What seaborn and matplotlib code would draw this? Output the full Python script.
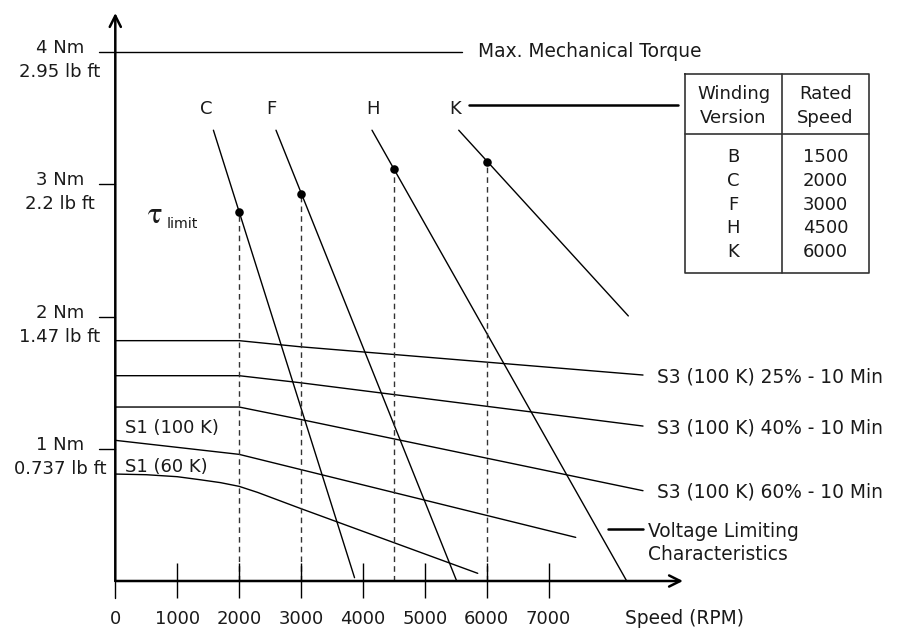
import numpy as np
import pandas as pd
import matplotlib
matplotlib.use("Agg")
import matplotlib.pyplot as plt
import seaborn as sns

# ---------------- data ----------------
windings = ["C", "F", "H", "K"]
rated_speeds = [2000, 3000, 4500, 6000]            # rpm, tau_limit points
tau_limit = [2.79, 2.93, 3.12, 3.17]               # Nm
vl_start_speed = [1585, 2596, 4147, 5548]          # voltage limiting line start
vl_start_torque = [3.41, 3.41, 3.41, 3.41]
vl_end_speed = [3865, 5515, 8262, 8288]
vl_end_torque = [0.025, 0.0, 0.0, 2.005]

s3_speed = [0, 2000, 2984, 8525]
s3_25 = [1.818, 1.818, 1.772, 1.558]
s3_40 = [1.553, 1.553, 1.500, 1.172]
s3_60 = [1.316, 1.316, 1.223, 0.683]
s3_labels = ["S3 (100 K) 25% - 10 Min", "S3 (100 K) 40% - 10 Min", "S3 (100 K) 60% - 10 Min"]

s1_100_speed = [0, 2000, 7438]
s1_100 = [1.064, 0.958, 0.330]
s1_60_speed = [0, 500, 1000, 1370, 1700, 2000, 2300, 2984, 5855]
s1_60 = [0.809, 0.804, 0.789, 0.766, 0.744, 0.716, 0.670, 0.550, 0.058]

max_torque = 4.0
y_ticks = [1, 2, 3, 4]
y_labels_nm = ["1 Nm", "2 Nm", "3 Nm", "4 Nm"]
y_labels_lb = ["0.737 lb ft", "1.47 lb ft", "2.2 lb ft", "2.95 lb ft"]
x_ticks = [0, 1000, 2000, 3000, 4000, 5000, 6000, 7000]
x_labels = ["0", "1000", "2000", "3000", "4000", "5000", "6000", "7000"]

table_versions = ["B", "C", "F", "H", "K"]
table_speeds = ["1500", "2000", "3000", "4500", "6000"]

# ---------------- layout helpers (pixel -> data) ----------------
PX0, PXS = 115.3, 0.0619
PY0, PYS = 581.0, 132.2
def dx(px):
    return (px - PX0) / PXS
def dy(py):
    return (PY0 - py) / PYS

sns.set_theme(style="white")
plt.rcParams["font.family"] = ["DejaVu Sans"]
TXT = "#1a1a1a"
FS = 13
FSL = 13.4

fig = plt.figure(figsize=(8.99, 6.29), dpi=100)
ax = fig.add_axes([0, 0, 1, 1])
ax.set_xlim(dx(0), dx(899))
ax.set_ylim(dy(629), dy(0))
ax.axis("off")

# voltage limiting lines
vl = pd.DataFrame({
    "speed": vl_start_speed + vl_end_speed,
    "torque": vl_start_torque + vl_end_torque,
    "w": windings + windings,
})
sns.lineplot(data=vl, x="speed", y="torque", units="w", estimator=None,
             color="black", lw=1.0, ax=ax, sort=False)

# S3 curves
s3 = pd.DataFrame({
    "speed": s3_speed * 3,
    "torque": s3_25 + s3_40 + s3_60,
    "c": [s3_labels[0]] * 4 + [s3_labels[1]] * 4 + [s3_labels[2]] * 4,
})
sns.lineplot(data=s3, x="speed", y="torque", units="c", estimator=None,
             color="black", lw=1.0, ax=ax, sort=False)

# S1 curves
s1 = pd.DataFrame({
    "speed": s1_100_speed + s1_60_speed,
    "torque": s1_100 + s1_60,
    "c": ["S1 (100 K)"] * len(s1_100) + ["S1 (60 K)"] * len(s1_60),
})
sns.lineplot(data=s1, x="speed", y="torque", units="c", estimator=None,
             color="black", lw=1.0, ax=ax, sort=False)

# tau limit dashed verticals + dots
ax.vlines(rated_speeds, 0, tau_limit, colors="#333333", lw=1.0, linestyles=(0, (4, 3)))
sns.scatterplot(x=rated_speeds, y=tau_limit, color="black", s=38, edgecolor="black",
                linewidth=0, ax=ax, zorder=5)

# max mechanical torque
ax.plot([dx(99), dx(461.7)], [max_torque, max_torque], color="black", lw=1.0)
ax.text(dx(477.7), dy(56.7), "Max. Mechanical Torque", fontsize=FSL, color=TXT,
        ha="left", va="baseline")

# axes with arrows
arrow = dict(arrowstyle="->", lw=1.8, color="black", mutation_scale=20, shrinkA=0, shrinkB=0)
ax.annotate("", xy=(dx(683), 0), xytext=(0, 0), arrowprops=arrow)
ax.annotate("", xy=(0, dy(13)), xytext=(0, 0), arrowprops=arrow)

# ticks
for t in y_ticks[:-1]:
    ax.plot([dx(99), 0], [t, t], color="black", lw=1.0)
ax.plot([0, 0], [dy(581), dy(598)], color="black", lw=1.0)
ax.vlines(x_ticks[1:], dy(598), dy(563), colors="black", lw=1.0)

for t, a, b in zip(y_ticks, y_labels_nm, y_labels_lb):
    ax.text(dx(60), t - 1.0 / PYS, a, fontsize=FS, color=TXT, ha="center", va="baseline")
    ax.text(dx(60), t - 25.0 / PYS, b, fontsize=FS, color=TXT, ha="center", va="baseline")

for t, lab in zip(x_ticks, x_labels):
    ax.text(t, dy(624.5), lab, fontsize=FS, color=TXT, ha="center", va="baseline")
ax.text(dx(625), dy(624.5), "Speed (RPM)", fontsize=FSL, color=TXT, ha="left", va="baseline")

# winding labels
label_px = [206.7, 271.7, 373.0, 455.5]
for w, p in zip(windings, label_px):
    ax.text(dx(p), dy(114.3), w, fontsize=FS, color=TXT, ha="center", va="baseline")
ax.plot([dx(469), dx(678)], [dy(105), dy(105)], color="black", lw=1.8)

# tau limit label
ax.text(dx(147), dy(223.3), r"$\mathrm{\tau}$", fontsize=22, color=TXT, ha="left",
        va="baseline", math_fontfamily="stix")
ax.text(dx(166.5), dy(228.3), "limit", fontsize=10.2, color=TXT, ha="left", va="baseline")

# S3 labels
for lab, bl in zip(s3_labels, [382.7, 433.3, 497.7]):
    ax.text(dx(656.7), dy(bl), lab, fontsize=FSL, color=TXT, ha="left", va="baseline")

# S1 labels
ax.text(dx(125), dy(433.3), "S1 (100 K)", fontsize=FS, color=TXT, ha="left", va="baseline")
ax.text(dx(125), dy(471.7), "S1 (60 K)", fontsize=FS, color=TXT, ha="left", va="baseline")

# voltage limiting label
ax.plot([dx(608), dx(643)], [dy(529), dy(529)], color="black", lw=1.8)
ax.text(dx(648), dy(536.7), "Voltage Limiting", fontsize=FSL, color=TXT, ha="left", va="baseline")
ax.text(dx(648), dy(560), "Characteristics", fontsize=FSL, color=TXT, ha="left", va="baseline")

# table
tl, tr, tm = dx(685), dx(869), dx(782)
tt, tb, th = dy(74), dy(273), dy(134)
ax.plot([tl, tr, tr, tl, tl], [tt, tt, tb, tb, tt], color="#333333", lw=1.2)
ax.plot([tm, tm], [tt, tb], color="#333333", lw=1.2)
ax.plot([tl, tr], [th, th], color="#333333", lw=1.2)
c1, c2 = dx(733.5), dx(825.5)
ax.text(c1, dy(99.3), "Winding", fontsize=FS, color=TXT, ha="center", va="baseline")
ax.text(c1, dy(123.3), "Version", fontsize=FS, color=TXT, ha="center", va="baseline")
ax.text(c2, dy(99.3), "Rated", fontsize=FS, color=TXT, ha="center", va="baseline")
ax.text(c2, dy(123.3), "Speed", fontsize=FS, color=TXT, ha="center", va="baseline")
for i, (v, s) in enumerate(zip(table_versions, table_speeds)):
    bl = 161.7 + 23.9 * i
    ax.text(c1, dy(bl), v, fontsize=FS, color=TXT, ha="center", va="baseline")
    ax.text(c2, dy(bl), s, fontsize=FS, color=TXT, ha="center", va="baseline")

fig.savefig("out.png", dpi=100, facecolor="white")
